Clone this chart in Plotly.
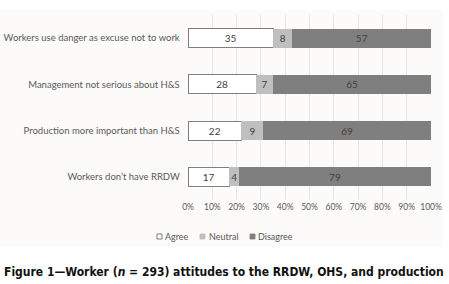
import plotly.graph_objects as go

categories = ["Workers use danger as excuse not to work",
              "Management not serious about H&S",
              "Production more important than H&S",
              "Workers don\u2019t have RRDW"]
agree = [35, 28, 22, 17]
neutral = [8, 7, 9, 4]
disagree = [57, 65, 69, 79]
series_names = ["Agree", "Neutral", "Disagree"]
tick_vals = [0, 10, 20, 30, 40, 50, 60, 70, 80, 90, 100]
tick_text = [f"{v}%" for v in tick_vals]

W, H = 449, 284
L, R, T, B = 188, 18, 15, 84
pw, ph = W - L - R, H - T - B

def px_x(x):
    return (x - L) / pw

def px_y(y):
    return (H - B - y) / ph

lab_font = dict(family="Lato, Open Sans, sans-serif", size=10, color="#404040")

fills = ["#ffffff", "#bfbfbf", "#7f7f7f"]
lines = ["#7f7f7f", "#bfbfbf", "#7f7f7f"]
widths = [1, 0, 0]

fig = go.Figure()
for name, vals, fill, line, lw in zip(series_names, [agree, neutral, disagree], fills, lines, widths):
    fig.add_trace(go.Bar(
        y=categories, x=vals, name=name, orientation="h",
        marker=dict(color=fill, line=dict(color=line, width=lw)),
        text=[str(v) for v in vals], textposition="inside",
        insidetextanchor="middle", constraintext="none",
        textfont=lab_font, hoverinfo="x+name", showlegend=False,
    ))

# chart-area background
fig.add_shape(type="rect", xref="paper", yref="paper",
              x0=px_x(0), x1=px_x(443), y0=px_y(247), y1=px_y(10),
              fillcolor="#fcfbf9", line=dict(width=0), layer="below")

# compact legend (swatch + label), as in the reference
leg_x = [157, 200, 250]
leg_text_x = [163, 207, 256]
leg_y = 236.5
for name, fill, line, sx, tx in zip(series_names, fills, ["#606060", "#bfbfbf", "#7f7f7f"], leg_x, leg_text_x):
    fig.add_shape(type="rect", xref="paper", yref="paper",
                  x0=px_x(sx), x1=px_x(sx + 5), y0=px_y(leg_y + 2.5), y1=px_y(leg_y - 2.5),
                  fillcolor=fill, line=dict(color=line, width=0.8))
    fig.add_annotation(xref="paper", yref="paper", x=px_x(tx), y=px_y(leg_y),
                       xanchor="left", yanchor="middle", showarrow=False,
                       text=name, font=dict(family="Lato, Open Sans, sans-serif",
                                            size=9, color="#595959"))

fig.add_annotation(
    xref="paper", yref="paper", x=px_x(2), y=px_y(272),
    xanchor="left", yanchor="middle", showarrow=False,
    text="<b>Figure 1\u2014Worker (<i>n</i> = 293) attitudes to the RRDW, OHS, and production</b>",
    font=dict(family="DejaVu Sans Condensed, Liberation Sans Narrow, sans-serif",
              size=12, color="#111111"))

fig.update_layout(
    width=W, height=H, margin=dict(l=L, r=R, t=T, b=B),
    barmode="stack", bargap=0.59,
    paper_bgcolor="#ffffff", plot_bgcolor="rgba(0,0,0,0)",
    font=dict(family="Lato, Open Sans, sans-serif", color="#595959"),
    xaxis=dict(range=[0, 100], tickvals=tick_vals, ticktext=tick_text,
               showgrid=True, gridcolor="#e6e6e6", gridwidth=1,
               zeroline=False, showline=False, ticks="", tickangle=0,
               automargin=False,
               tickfont=dict(size=8.5, color="#595959")),
    yaxis=dict(categoryorder="array", categoryarray=categories[::-1],
               showgrid=False, zeroline=False, ticks="",
               ticksuffix="   ", automargin=False,
               tickfont=dict(size=9.5, color="#595959")),
    showlegend=False,
)

fig.write_html("out.html", config={"displayModeBar": False},
               post_script="document.body.style.margin='0';")
